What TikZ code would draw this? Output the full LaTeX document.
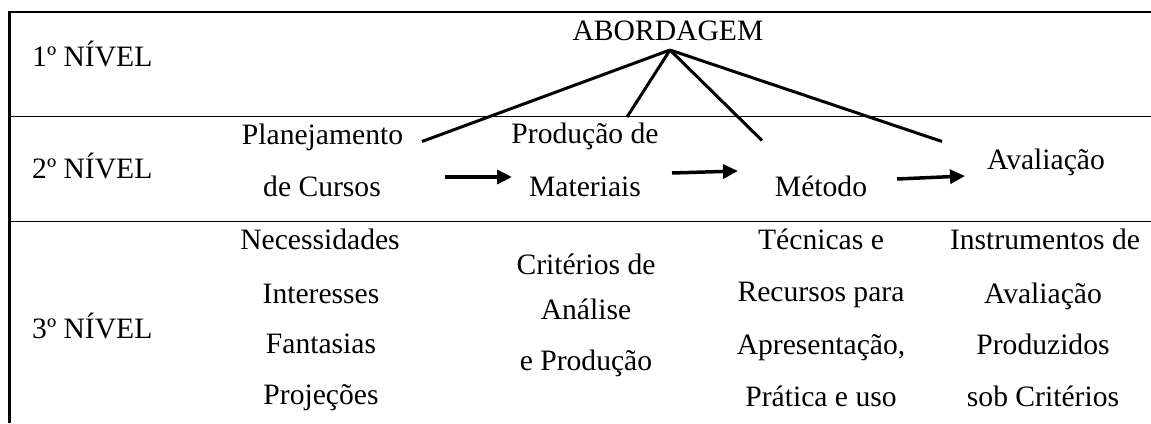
\documentclass[tikz,border=0pt]{standalone}
\usepackage{fontspec}
\setmainfont{Liberation Serif}
\usetikzlibrary{arrows.meta}
\begin{document}
\begin{tikzpicture}[x=1pt,y=-1pt,
  txt/.style={inner sep=0pt, font=\fontsize{29.6}{36}\selectfont, anchor=base},
  lbl/.style={txt, anchor=base west},
  spoke/.style={line width=3pt},
  flow/.style={line width=3.5pt, -{Triangle[length=15pt,width=14pt]}},
  thinrule/.style={line width=1.5pt},
  framerule/.style={line width=2.5pt}]
\useasboundingbox (0,0) rectangle (1151,423);
% table frame
\draw[framerule] (9.7,10.8) -- (9.7,423);
\draw[framerule] (8.5,12) -- (1151,12);
\draw[thinrule] (8.5,116.5) -- (1151,116.5);
\draw[thinrule] (8.5,221.5) -- (1151,221.5);
% level labels
\node[lbl] (l1) at (32,66) {1º NÍVEL};
\node[lbl] (l2) at (32,178) {2º NÍVEL};
\node[lbl] (l3) at (32,338) {3º NÍVEL};
% level 1
\node[txt] (abord) at (668,40) {ABORDAGEM};
% level 2
\node[txt] (plan1) at (322.5,144) {Planejamento};
\node[txt] (plan2) at (322,196) {de Cursos};
\node[txt] (prod1) at (585,143) {Produção de};
\node[txt] (prod2) at (585,196) {Materiais};
\node[txt] (met) at (821,196) {Método};
\node[txt] (aval) at (1046,169) {Avaliação};
% level 3
\node[txt] (c1a) at (320,249) {Necessidades};
\node[txt] (c1b) at (321,303) {Interesses};
\node[txt] (c1c) at (321,353) {Fantasias};
\node[txt] (c1d) at (321,404) {Projeções};
\node[txt] (c2a) at (586,274) {Critérios de};
\node[txt] (c2b) at (586,319) {Análise};
\node[txt] (c2c) at (586,370) {e Produção};
\node[txt] (c3a) at (821,249) {Técnicas e};
\node[txt] (c3b) at (821,301) {Recursos para};
\node[txt] (c3c) at (821,354) {Apresentação,};
\node[txt] (c3d) at (821,406) {Prática e uso};
\node[txt] (c4a) at (1045,249) {Instrumentos de};
\node[txt] (c4b) at (1043,303) {Avaliação};
\node[txt] (c4c) at (1043,354) {Produzidos};
\node[txt] (c4d) at (1043,406) {sob Critérios};
% spokes
\coordinate (apex) at (670,50);
\coordinate (ePlan) at (422,141.5);
\coordinate (eProd) at (627,117);
\coordinate (eMet) at (762,140.5);
\coordinate (eAval) at (942,141.5);
\draw[spoke] (apex) -- (ePlan);
\draw[spoke] (apex) -- (eProd);
\draw[spoke] (apex) -- (eMet);
\draw[spoke] (apex) -- (eAval);
% flow arrows
\coordinate (a1s) at (445,177);
\coordinate (a1e) at (512,177);
\coordinate (a2s) at (672,173);
\coordinate (a2e) at (738,171);
\coordinate (a3s) at (897,179);
\coordinate (a3e) at (965,176);
\draw[flow] (a1s) -- (a1e);
\draw[flow] (a2s) -- (a2e);
\draw[flow] (a3s) -- (a3e);
\end{tikzpicture}
\end{document}
